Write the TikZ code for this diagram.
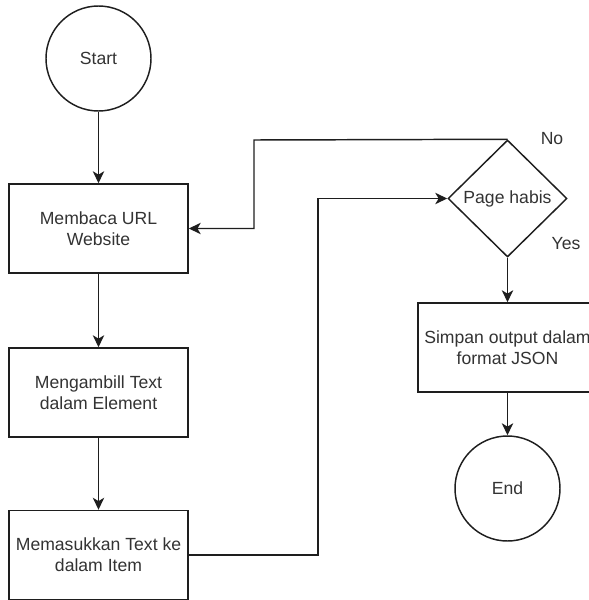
\documentclass[tikz,border=0pt]{standalone}
\usepackage{fontspec}
\setmainfont{Liberation Sans}
\usetikzlibrary{shapes.geometric,arrows.meta}
\definecolor{txt}{HTML}{333333}
\definecolor{ln}{HTML}{1E1E1E}
\tikzset{
  every node/.style={font=\fontsize{13.2pt}{15.5pt}\selectfont, text=txt},
  procbox/.style={draw=ln, line width=1.1pt, fill=white, minimum width=134.25pt,
    minimum height=66.75pt, inner sep=0pt, align=center},
  termnode/.style={draw=ln, line width=1.1pt, circle, minimum size=78.75pt, inner sep=0pt},
  decide/.style={draw=ln, line width=1.1pt, diamond, minimum width=89.25pt,
    minimum height=87.75pt, inner sep=0pt},
  flow/.style={draw=ln, line width=1.1pt, -{Stealth[length=9pt,width=8.5pt,inset=2.5pt]}},
  plain/.style={draw=ln, line width=1.1pt}
}
\begin{document}
\begin{tikzpicture}[x=0.75pt,y=-0.75pt]
  \useasboundingbox (0,0) rectangle (589,600);
  \clip (0,0) rectangle (589,600);
  % process column on the left
  \node[termnode] (start) at (98.5,58.5) {Start};
  \node[procbox] (read) at (98.5,228.5) {Membaca URL\\Website};
  \node[procbox] (take) at (98.5,392.5) {Mengambill Text\\dalam Element};
  \node[procbox] (put) at (98.5,555) {Memasukkan Text ke\\dalam Item};
  % decision and output on the right
  \node[decide] (dec) at (507.5,198.5) {Page habis};
  \node[procbox] (save) at (507.5,347.5) {Simpan output dalam\\format JSON};
  \node[termnode] (end) at (507.5,488.5) {End};
  % bend points of the two loops
  \coordinate (nobend) at (254,140);
  \coordinate (upbend) at (318,555);
  % connectors
  \draw[flow] (start) -- (read);
  \draw[flow] (read) -- (take);
  \draw[flow] (take) -- (put);
  \draw[flow] (put.east) -- (upbend) |- (dec.west);
  \draw[flow] (dec.north) -- (nobend) |- (read.east);
  \draw[flow] (dec.south) -- (save.north);
  \draw[flow] (save.south) -- (end.north);
  % branch labels
  \node (nolab) at (552,139) {No};
  \node (yeslab) at (566,244) {Yes};
\end{tikzpicture}
\end{document}
